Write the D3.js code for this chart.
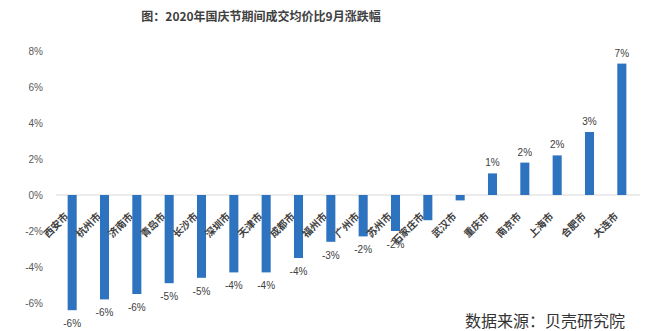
<!DOCTYPE html>
<html><head><meta charset="utf-8">
<script src="https://cdn.jsdelivr.net/npm/d3@7"></script>
<style>
html,body{margin:0;padding:0;background:#fff;}
svg{display:block;font-family:"Noto Sans CJK SC","Noto Sans",sans-serif;}
</style></head>
<body><svg id="c" width="658" height="331"></svg>
<script>
const title = "图：2020年国庆节期间成交均价比9月涨跌幅";
const source = "数据来源：贝壳研究院";
const categories = ["西安市","杭州市","济南市","青岛市","长沙市","深圳市","天津市","成都市","福州市","广州市","苏州市","石家庄市","武汉市","重庆市","南京市","上海市","合肥市","大连市"];
const values = [-6.4,-5.8,-5.5,-4.9,-4.6,-4.3,-4.3,-3.5,-2.6,-2.3,-2.0,-1.4,-0.3,1.2,1.8,2.2,3.5,7.3];
// labels of the two smallest bars are hidden behind the axis labels in the source
const valueLabels = ["-6%","-6%","-6%","-5%","-5%","-4%","-4%","-4%","-3%","-2%","-2%","","","1%","2%","2%","3%","7%"];
const yTicks = [-6,-4,-2,0,2,4,6,8];

const svg = d3.select("#c");
const y = d3.scaleLinear().domain([-6, 8]).range([303, 51]);
const x = d3.scaleBand().domain(categories).range([56, 638]).paddingInner(0.72).paddingOuter(0.36);

// title
svg.append("text").attr("x", 261).attr("y", 21).attr("text-anchor", "middle")
  .attr("font-size", 12).attr("font-weight", "bold").attr("fill", "#404040").text(title);

// y axis labels
const yAxis = d3.axisLeft(y).tickValues(yTicks).tickFormat(d => d + "%").tickSize(0).tickPadding(0);
const ga = svg.append("g").attr("transform", "translate(43,0)").call(yAxis);
ga.select(".domain").remove();
ga.selectAll("text").attr("font-size", 10).attr("fill", "#595959")
  .attr("font-family", "'Liberation Sans','DejaVu Sans',sans-serif");

// zero line
svg.append("line").attr("x1", 56).attr("x2", 640).attr("y1", y(0)).attr("y2", y(0))
  .attr("stroke", "#d9d9d9").attr("stroke-width", 1);

// bars
svg.append("g").selectAll("rect").data(values).join("rect")
  .attr("x", (d, i) => x(categories[i]))
  .attr("width", x.bandwidth())
  .attr("y", d => Math.min(y(d), y(0)))
  .attr("height", d => Math.abs(y(d) - y(0)))
  .attr("fill", "#2e73c0");

// value labels
svg.append("g").selectAll("text").data(values).join("text")
  .attr("x", (d, i) => x(categories[i]) + x.bandwidth() / 2)
  .attr("y", d => d < 0 ? y(d) + 17 : y(d) - 7)
  .attr("text-anchor", "middle").attr("font-size", 10).attr("fill", "#404040")
  .attr("font-family", "'Liberation Sans','DejaVu Sans',sans-serif")
  .text((d, i) => valueLabels[i]);

// category labels
svg.append("g").selectAll("text").data(categories).join("text")
  .attr("transform", d => `translate(${x(d) + x.bandwidth() / 2 - 3},217) rotate(-45)`)
  .attr("text-anchor", "end").attr("font-size", 10).attr("font-weight", "bold").attr("fill", "#404040")
  .text(d => d);

// source
svg.append("text").attr("x", 625).attr("y", 327).attr("text-anchor", "end")
  .attr("font-size", 16).attr("fill", "#333").text(source);
</script></body></html>
